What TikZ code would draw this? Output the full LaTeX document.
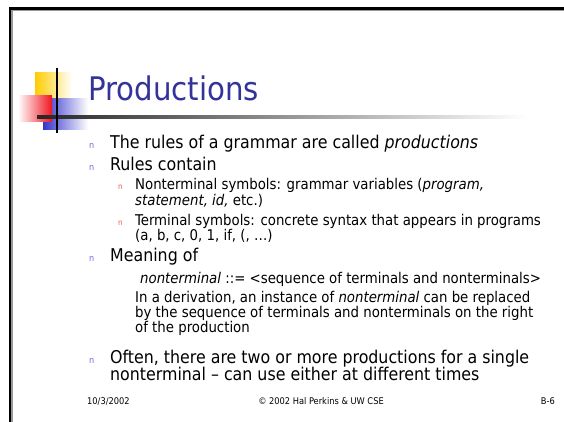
\documentclass[tikz,border=0pt]{standalone}
\usepackage{fontspec}
\setmainfont{DejaVu Sans Condensed}
\usetikzlibrary{positioning}
\definecolor{titleblue}{RGB}{51,51,153}
\definecolor{logoyellow}{RGB}{255,204,0}
\definecolor{logored}{RGB}{240,20,30}
\definecolor{logoblue}{RGB}{51,51,204}
\definecolor{bulletblue}{RGB}{110,110,220}
\definecolor{bulletred}{RGB}{240,90,90}

\begin{document}
\begin{tikzpicture}[x=1pt,y=-1pt,
    txt/.style={anchor=base west,inner sep=0pt,font=\fontsize{17.6}{21}\selectfont},
    subtxt/.style={anchor=base west,inner sep=0pt,font=\fontsize{14.8}{18}\selectfont},
    foot/.style={anchor=base,inner sep=0pt,font=\fontsize{9.2}{11}\selectfont},
    bull/.style={anchor=base west,inner sep=0pt,text=bulletblue,font=\rmfamily\fontsize{9}{10}\selectfont},
    subbull/.style={bull,text=bulletred,font=\rmfamily\fontsize{8}{9}\selectfont}]

  \useasboundingbox (0,0) rectangle (564,422);
  \fill[white] (0,0) rectangle (564,422);

  % slide frame
  \fill[black!40] (11,10) rectangle (564,11.5);
  \fill[black!40] (11,10) rectangle (12.5,422);
  \fill[black] (8.5,7.5) rectangle (564,10);
  \fill[black] (8.5,7.5) rectangle (11,422);

  % logo
  \shade[left color=logoyellow,right color=white] (35,73) rectangle (72,110);
  \shade[left color=logoblue,right color=white] (43,99) rectangle (88,130);
  \shade[left color=white,right color=logored] (18,96) rectangle (52,122);
  \shade[left color=black!85,right color=white] (37,115.5) rectangle (527,118.5);
  \draw[line width=2pt] (57,68) -- (57,133);

  % title
  \node[anchor=base west,inner sep=0pt,text=titleblue,font=\fontsize{32.5}{38}\selectfont] (t_title) at (88,100.5) {Productions};

  % bullets
  \node[bull] (b_1) at (89,148.5) {n};
  \node[txt] (l_1) at (110,148.5) {The rules of a grammar are called \textit{productions}};
  \node[bull] (b_2) at (89,171) {n};
  \node[txt] (l_2) at (110,171) {Rules contain};
  \node[subbull] (b_21) at (118,189.5) {n};
  \node[subtxt] (l_21) at (135,189.5) {Nonterminal symbols: grammar variables (\textit{program,}};
  \node[subtxt] (l_21b) at (135,205) {\textit{statement, id,} etc.)};
  \node[subbull] (b_22) at (118,225) {n};
  \node[subtxt] (l_22) at (135,225) {Terminal symbols: concrete syntax that appears in programs};
  \node[subtxt] (l_22b) at (135,240) {(a, b, c, 0, 1, if, (, \dots)};
  \node[bull] (b_3) at (89,261) {n};
  \node[txt] (l_3) at (110,261) {Meaning of};
  \node[subtxt] (l_31) at (140,283) {\textit{nonterminal} ::= <sequence of terminals and nonterminals>};
  \node[subtxt] (l_32) at (135,302) {In a derivation, an instance of \textit{nonterminal} can be replaced};
  \node[subtxt] (l_32b) at (135,317) {by the sequence of terminals and nonterminals on the right};
  \node[subtxt] (l_32c) at (135,332) {of the production};
  \node[bull] (b_4) at (89,363.5) {n};
  \node[txt] (l_4) at (110,363.5) {Often, there are two or more productions for a single};
  \node[txt] (l_4b) at (110,380.5) {nonterminal -- can use either at different times};

  % footer
  \node[foot,anchor=base west] (f_date) at (87,404) {10/3/2002};
  \node[foot] (f_copy) at (321,404) {© 2002 Hal Perkins \& UW CSE};
  \node[foot,anchor=base east] (f_page) at (555,404) {B-6};
\end{tikzpicture}
\end{document}
